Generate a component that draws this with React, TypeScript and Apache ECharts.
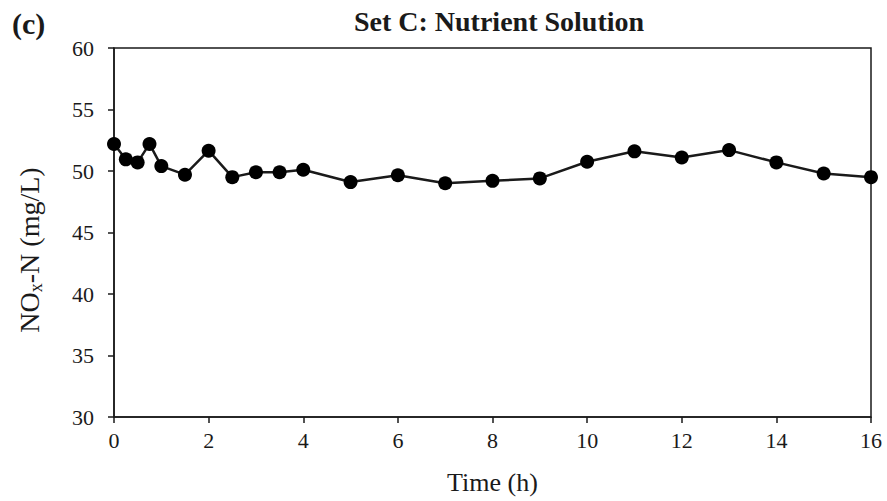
import { useEffect, useRef } from "react";
import * as echarts from "echarts";

const timeH = [0, 0.25, 0.5, 0.75, 1, 1.5, 2, 2.5, 3, 3.5, 4, 5, 6, 7, 8, 9, 10, 11, 12, 13, 14, 15, 16];
const noxN = [52.2, 50.95, 50.7, 52.2, 50.4, 49.7, 51.65, 49.5, 49.9, 49.9, 50.1, 49.1, 49.65, 49.0, 49.2, 49.4, 50.75, 51.6, 51.1, 51.7, 50.7, 49.8, 49.5];
const titleText = "Set C: Nutrient Solution";
const panelLabel = "(c)";
const xName = "Time (h)";

const FONT = "Liberation Serif";
const INK = "#1a1a1a";

export default function App() {
  const ref = useRef<HTMLDivElement>(null);
  useEffect(() => {
    if (!ref.current) return;
    const chart = echarts.init(ref.current, null, { renderer: "svg" });
    const data = timeH.map((t, i) => [t, noxN[i]]);
    chart.setOption({
      animation: false,
      backgroundColor: "#ffffff",
      textStyle: { fontFamily: FONT },
      grid: {
        left: 114,
        right: 16,
        top: 48,
        bottom: 84,
        show: true,
        borderColor: INK,
        borderWidth: 1.5,
        backgroundColor: "transparent",
      },
      title: {
        text: titleText,
        left: 494,
        top: 2,
        textAlign: "center",
        textStyle: { fontFamily: FONT, fontWeight: "bold", fontSize: 28, color: INK },
      },
      graphic: [
        {
          type: "text",
          left: 12,
          top: 8,
          style: { text: panelLabel, fontFamily: FONT, fontWeight: "bold", fontSize: 30, fill: INK },
        },
        {
          type: "text",
          x: 29,
          y: 250,
          rotation: Math.PI / 2,
          style: {
            text: "NO{sub|x}-N (mg/L)",
            fontFamily: FONT,
            fontSize: 28,
            fill: INK,
            align: "center",
            verticalAlign: "middle",
            rich: {
              sub: { fontFamily: FONT, fontSize: 18, fill: INK, padding: [14, 0, 0, 0] },
            },
          },
        },
      ],
      xAxis: {
        type: "value",
        min: 0,
        max: 16,
        interval: 2,
        name: xName,
        nameLocation: "middle",
        nameGap: 52,
        nameTextStyle: { fontFamily: FONT, fontSize: 26, color: INK },
        axisLine: { show: true, lineStyle: { color: INK, width: 1.5 } },
        axisTick: { show: true, length: 6, lineStyle: { color: INK, width: 1.5 } },
        axisLabel: { fontFamily: FONT, fontSize: 22, color: INK, margin: 12 },
        splitLine: { show: false },
      },
      yAxis: {
        type: "value",
        min: 30,
        max: 60,
        interval: 5,
        axisLine: { show: true, lineStyle: { color: INK, width: 1.5 } },
        axisTick: { show: true, length: 6, lineStyle: { color: INK, width: 1.5 } },
        axisLabel: { fontFamily: FONT, fontSize: 22, color: INK, margin: 20 },
        splitLine: { show: false },
      },
      series: [
        {
          type: "line",
          data,
          symbol: "circle",
          symbolSize: 14,
          lineStyle: { color: INK, width: 2.5 },
          itemStyle: { color: "#000000" },
        },
      ],
    });
    return () => chart.dispose();
  }, []);
  return (
    <div
      ref={ref}
      style={{ position: "fixed", left: 0, top: 0, width: 887, height: 501, background: "#fff" }}
    />
  );
}
